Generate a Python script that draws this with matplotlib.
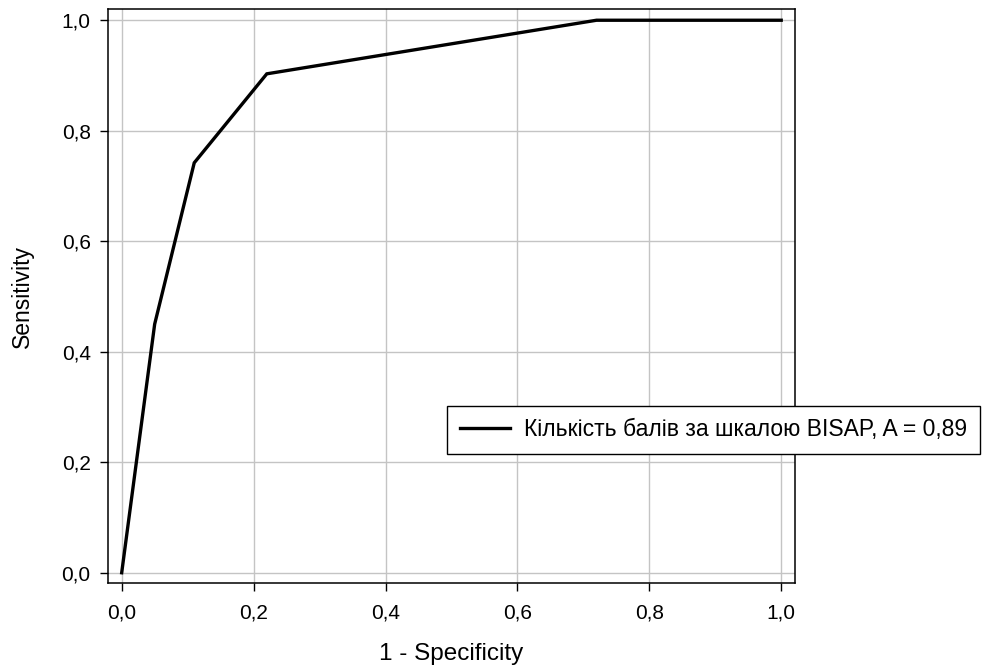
import matplotlib
matplotlib.use("Agg")
import matplotlib.pyplot as plt
from matplotlib.ticker import FuncFormatter

plt.rcParams['font.family'] = ['Liberation Sans', 'DejaVu Sans']

# ROC curve points
fpr = [0.0, 0.05, 0.11, 0.22, 0.72, 1.0]
tpr = [0.0, 0.45, 0.742, 0.903, 1.0, 1.0]
auc = 0.89
curve_name = 'Кількість балів за шкалою BISAP'
ticks = [0.0, 0.2, 0.4, 0.6, 0.8, 1.0]

fig = plt.figure(figsize=(9.84, 6.68), dpi=100)
ax = fig.add_axes([0.1098, 0.1272, 0.808 - 0.1098, 0.9865 - 0.1272])

ax.plot(fpr, tpr, color='black', lw=2.4, solid_joinstyle='miter',
        label=f'{curve_name}, A = {auc:.2f}'.replace('.', ','))

ax.set_xlim(-0.0207, 1.021)
ax.set_ylim(-0.0186, 1.0203)
ax.set_xticks(ticks)
ax.set_yticks(ticks)
comma = FuncFormatter(lambda v, p: f'{v:.1f}'.replace('.', ','))
ax.xaxis.set_major_formatter(comma)
ax.yaxis.set_major_formatter(comma)
ax.tick_params(direction='out', length=5.5, width=1, labelsize=15, color='black')
ax.tick_params(axis='x', pad=9)
ax.tick_params(axis='y', pad=7)
ax.grid(True, color='#c4c4c4', lw=1)
ax.set_axisbelow(True)
for s in ax.spines.values():
    s.set_linewidth(1.1)
    s.set_color('black')

ax.set_xlabel('1 - Specificity', fontsize=17.5, labelpad=15)
ax.set_ylabel('Sensitivity', fontsize=16.5, labelpad=20)

leg = fig.legend(loc='center left', bbox_to_anchor=(0.4543, 0.3563),
                 bbox_transform=fig.transFigure, borderaxespad=0,
                 fontsize=16.5, handlelength=2.2, handletextpad=0.6,
                 borderpad=0.55, fancybox=False, shadow=False, framealpha=1)
leg.get_frame().set_edgecolor('black')
leg.get_frame().set_linewidth(1.0)

fig.savefig('out.png', dpi=100)
